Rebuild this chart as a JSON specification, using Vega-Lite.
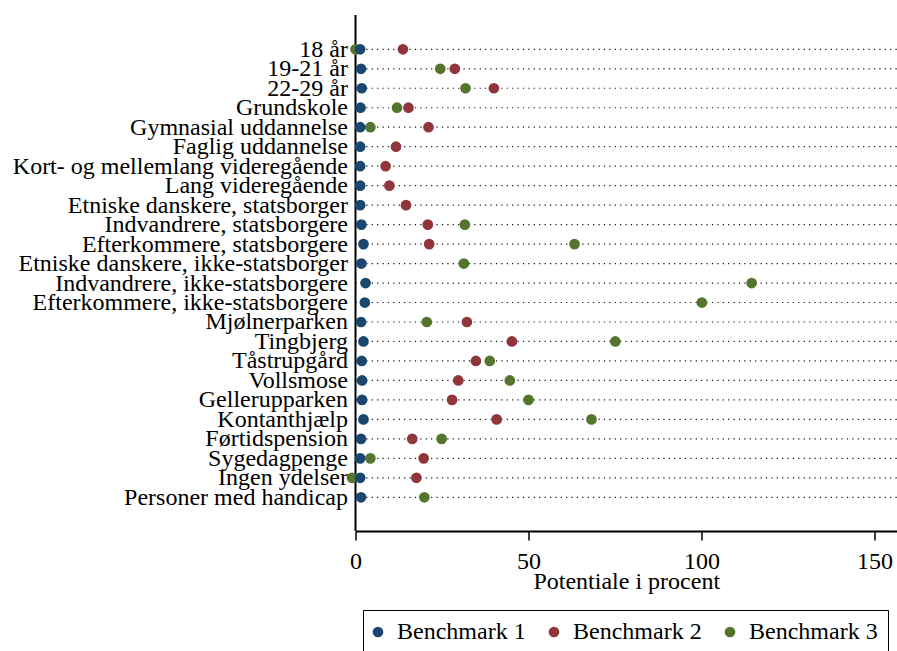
{
  "$schema": "https://vega.github.io/schema/vega-lite/v6.json",
  "width": 541.5,
  "height": 516,
  "autosize": "none",
  "padding": {"left": 355.5, "top": 15, "right": 0, "bottom": 120},
  "background": "white",
  "config": {
    "view": {"stroke": null},
    "font": "Liberation Serif",
    "axis": {"labelFont": "Liberation Serif", "titleFont": "Liberation Serif", "labelColor": "black", "titleColor": "black", "grid": false, "domainColor": "black", "domainWidth": 2, "tickColor": "black", "tickWidth": 1.5},
    "legend": {"labelFont": "Liberation Serif", "labelColor": "black"}
  },
  "data": {
    "values": [
      {"cat": "18 år", "bm": "Benchmark 1", "v": 1.35},
      {"cat": "18 år", "bm": "Benchmark 2", "v": 13.7},
      {"cat": "18 år", "bm": "Benchmark 3", "v": 0.0},
      {"cat": "19-21 år", "bm": "Benchmark 1", "v": 1.6},
      {"cat": "19-21 år", "bm": "Benchmark 2", "v": 28.7},
      {"cat": "19-21 år", "bm": "Benchmark 3", "v": 24.5},
      {"cat": "22-29 år", "bm": "Benchmark 1", "v": 1.8},
      {"cat": "22-29 år", "bm": "Benchmark 2", "v": 40.0},
      {"cat": "22-29 år", "bm": "Benchmark 3", "v": 31.8},
      {"cat": "Grundskole", "bm": "Benchmark 1", "v": 1.45},
      {"cat": "Grundskole", "bm": "Benchmark 2", "v": 15.3},
      {"cat": "Grundskole", "bm": "Benchmark 3", "v": 12.0},
      {"cat": "Gymnasial uddannelse", "bm": "Benchmark 1", "v": 1.35},
      {"cat": "Gymnasial uddannelse", "bm": "Benchmark 2", "v": 21.1},
      {"cat": "Gymnasial uddannelse", "bm": "Benchmark 3", "v": 4.3},
      {"cat": "Faglig uddannelse", "bm": "Benchmark 1", "v": 1.35},
      {"cat": "Faglig uddannelse", "bm": "Benchmark 2", "v": 11.7},
      {"cat": "Kort- og mellemlang videregående", "bm": "Benchmark 1", "v": 1.35},
      {"cat": "Kort- og mellemlang videregående", "bm": "Benchmark 2", "v": 8.7},
      {"cat": "Lang videregående", "bm": "Benchmark 1", "v": 1.35},
      {"cat": "Lang videregående", "bm": "Benchmark 2", "v": 9.8},
      {"cat": "Etniske danskere, statsborger", "bm": "Benchmark 1", "v": 1.35},
      {"cat": "Etniske danskere, statsborger", "bm": "Benchmark 2", "v": 14.6},
      {"cat": "Indvandrere, statsborgere", "bm": "Benchmark 1", "v": 1.7},
      {"cat": "Indvandrere, statsborgere", "bm": "Benchmark 2", "v": 20.9},
      {"cat": "Indvandrere, statsborgere", "bm": "Benchmark 3", "v": 31.6},
      {"cat": "Efterkommere, statsborgere", "bm": "Benchmark 1", "v": 2.3},
      {"cat": "Efterkommere, statsborgere", "bm": "Benchmark 2", "v": 21.3},
      {"cat": "Efterkommere, statsborgere", "bm": "Benchmark 3", "v": 63.3},
      {"cat": "Etniske danskere, ikke-statsborger", "bm": "Benchmark 1", "v": 1.7},
      {"cat": "Etniske danskere, ikke-statsborger", "bm": "Benchmark 3", "v": 31.3},
      {"cat": "Indvandrere, ikke-statsborgere", "bm": "Benchmark 1", "v": 2.9},
      {"cat": "Indvandrere, ikke-statsborgere", "bm": "Benchmark 3", "v": 114.5},
      {"cat": "Efterkommere, ikke-statsborgere", "bm": "Benchmark 1", "v": 2.7},
      {"cat": "Efterkommere, ikke-statsborgere", "bm": "Benchmark 3", "v": 100.1},
      {"cat": "Mjølnerparken", "bm": "Benchmark 1", "v": 1.6},
      {"cat": "Mjølnerparken", "bm": "Benchmark 2", "v": 32.2},
      {"cat": "Mjølnerparken", "bm": "Benchmark 3", "v": 20.6},
      {"cat": "Tingbjerg", "bm": "Benchmark 1", "v": 2.3},
      {"cat": "Tingbjerg", "bm": "Benchmark 2", "v": 45.2},
      {"cat": "Tingbjerg", "bm": "Benchmark 3", "v": 75.1},
      {"cat": "Tåstrupgård", "bm": "Benchmark 1", "v": 1.8},
      {"cat": "Tåstrupgård", "bm": "Benchmark 2", "v": 34.8},
      {"cat": "Tåstrupgård", "bm": "Benchmark 3", "v": 38.8},
      {"cat": "Vollsmose", "bm": "Benchmark 1", "v": 1.9},
      {"cat": "Vollsmose", "bm": "Benchmark 2", "v": 29.7},
      {"cat": "Vollsmose", "bm": "Benchmark 3", "v": 44.6},
      {"cat": "Gellerupparken", "bm": "Benchmark 1", "v": 1.9},
      {"cat": "Gellerupparken", "bm": "Benchmark 2", "v": 27.9},
      {"cat": "Gellerupparken", "bm": "Benchmark 3", "v": 50.0},
      {"cat": "Kontanthjælp", "bm": "Benchmark 1", "v": 2.3},
      {"cat": "Kontanthjælp", "bm": "Benchmark 2", "v": 40.8},
      {"cat": "Kontanthjælp", "bm": "Benchmark 3", "v": 68.2},
      {"cat": "Førtidspension", "bm": "Benchmark 1", "v": 1.6},
      {"cat": "Førtidspension", "bm": "Benchmark 2", "v": 16.4},
      {"cat": "Førtidspension", "bm": "Benchmark 3", "v": 24.9},
      {"cat": "Sygedagpenge", "bm": "Benchmark 1", "v": 1.35},
      {"cat": "Sygedagpenge", "bm": "Benchmark 2", "v": 19.7},
      {"cat": "Sygedagpenge", "bm": "Benchmark 3", "v": 4.3},
      {"cat": "Ingen ydelser", "bm": "Benchmark 1", "v": 1.35},
      {"cat": "Ingen ydelser", "bm": "Benchmark 2", "v": 17.6},
      {"cat": "Ingen ydelser", "bm": "Benchmark 3", "v": -1.0},
      {"cat": "Personer med handicap", "bm": "Benchmark 1", "v": 1.6},
      {"cat": "Personer med handicap", "bm": "Benchmark 3", "v": 19.9}
    ]
  },
  "layer": [
    {
      "transform": [{"filter": "datum.bm === 'Benchmark 1'"}],
      "mark": {"type": "rule", "color": "#111111", "strokeWidth": 1.2, "strokeDash": [1.2, 4.2]},
      "encoding": {
        "y": {
          "field": "cat", "type": "nominal", "sort": null,
          "scale": {"type": "point", "range": [34.3, 482.3], "padding": 0},
          "axis": {"title": null, "labelFontSize": 24, "labelLimit": 0, "labelOverlap": false, "ticks": false, "labelPadding": 8, "domain": false}
        },
        "x": {"datum": 0, "type": "quantitative"},
        "x2": {"datum": 156.5}
      }
    },
    {
      "transform": [{"filter": "datum.bm === 'Benchmark 1' && datum.cat === '18 år'"}],
      "mark": {"type": "rule", "color": "black", "strokeWidth": 2},
      "encoding": {
        "x": {"datum": 0, "type": "quantitative"}
      }
    },
    {
      "mark": {"type": "point", "filled": true, "opacity": 1, "size": 115, "shape": "circle"},
      "encoding": {
        "y": {"field": "cat", "type": "nominal", "sort": null},
        "x": {
          "field": "v", "type": "quantitative",
          "scale": {"domain": [0, 156.5], "nice": false, "zero": false},
          "axis": {"title": "Potentiale i procent", "values": [0, 50, 100, 150], "labelFontSize": 24, "titleFontSize": 24, "titleFontWeight": "normal", "tickSize": 9, "labelPadding": 9, "titlePadding": -4, "labelFlush": false}
        },
        "color": {
          "field": "bm", "type": "nominal",
          "scale": {"domain": ["Benchmark 1", "Benchmark 2", "Benchmark 3"], "range": ["#1a476f", "#90353b", "#55752f"]},
          "legend": {"title": null, "orient": "none", "legendX": 7.5, "legendY": 595, "direction": "horizontal", "labelFontSize": 24, "symbolType": "circle", "symbolSize": 115, "strokeColor": "black", "padding": 10, "symbolOffset": -7, "columnPadding": 22, "labelOffset": 7}
        },
        "order": {"field": "bm", "sort": "descending"}
      }
    }
  ]
}
